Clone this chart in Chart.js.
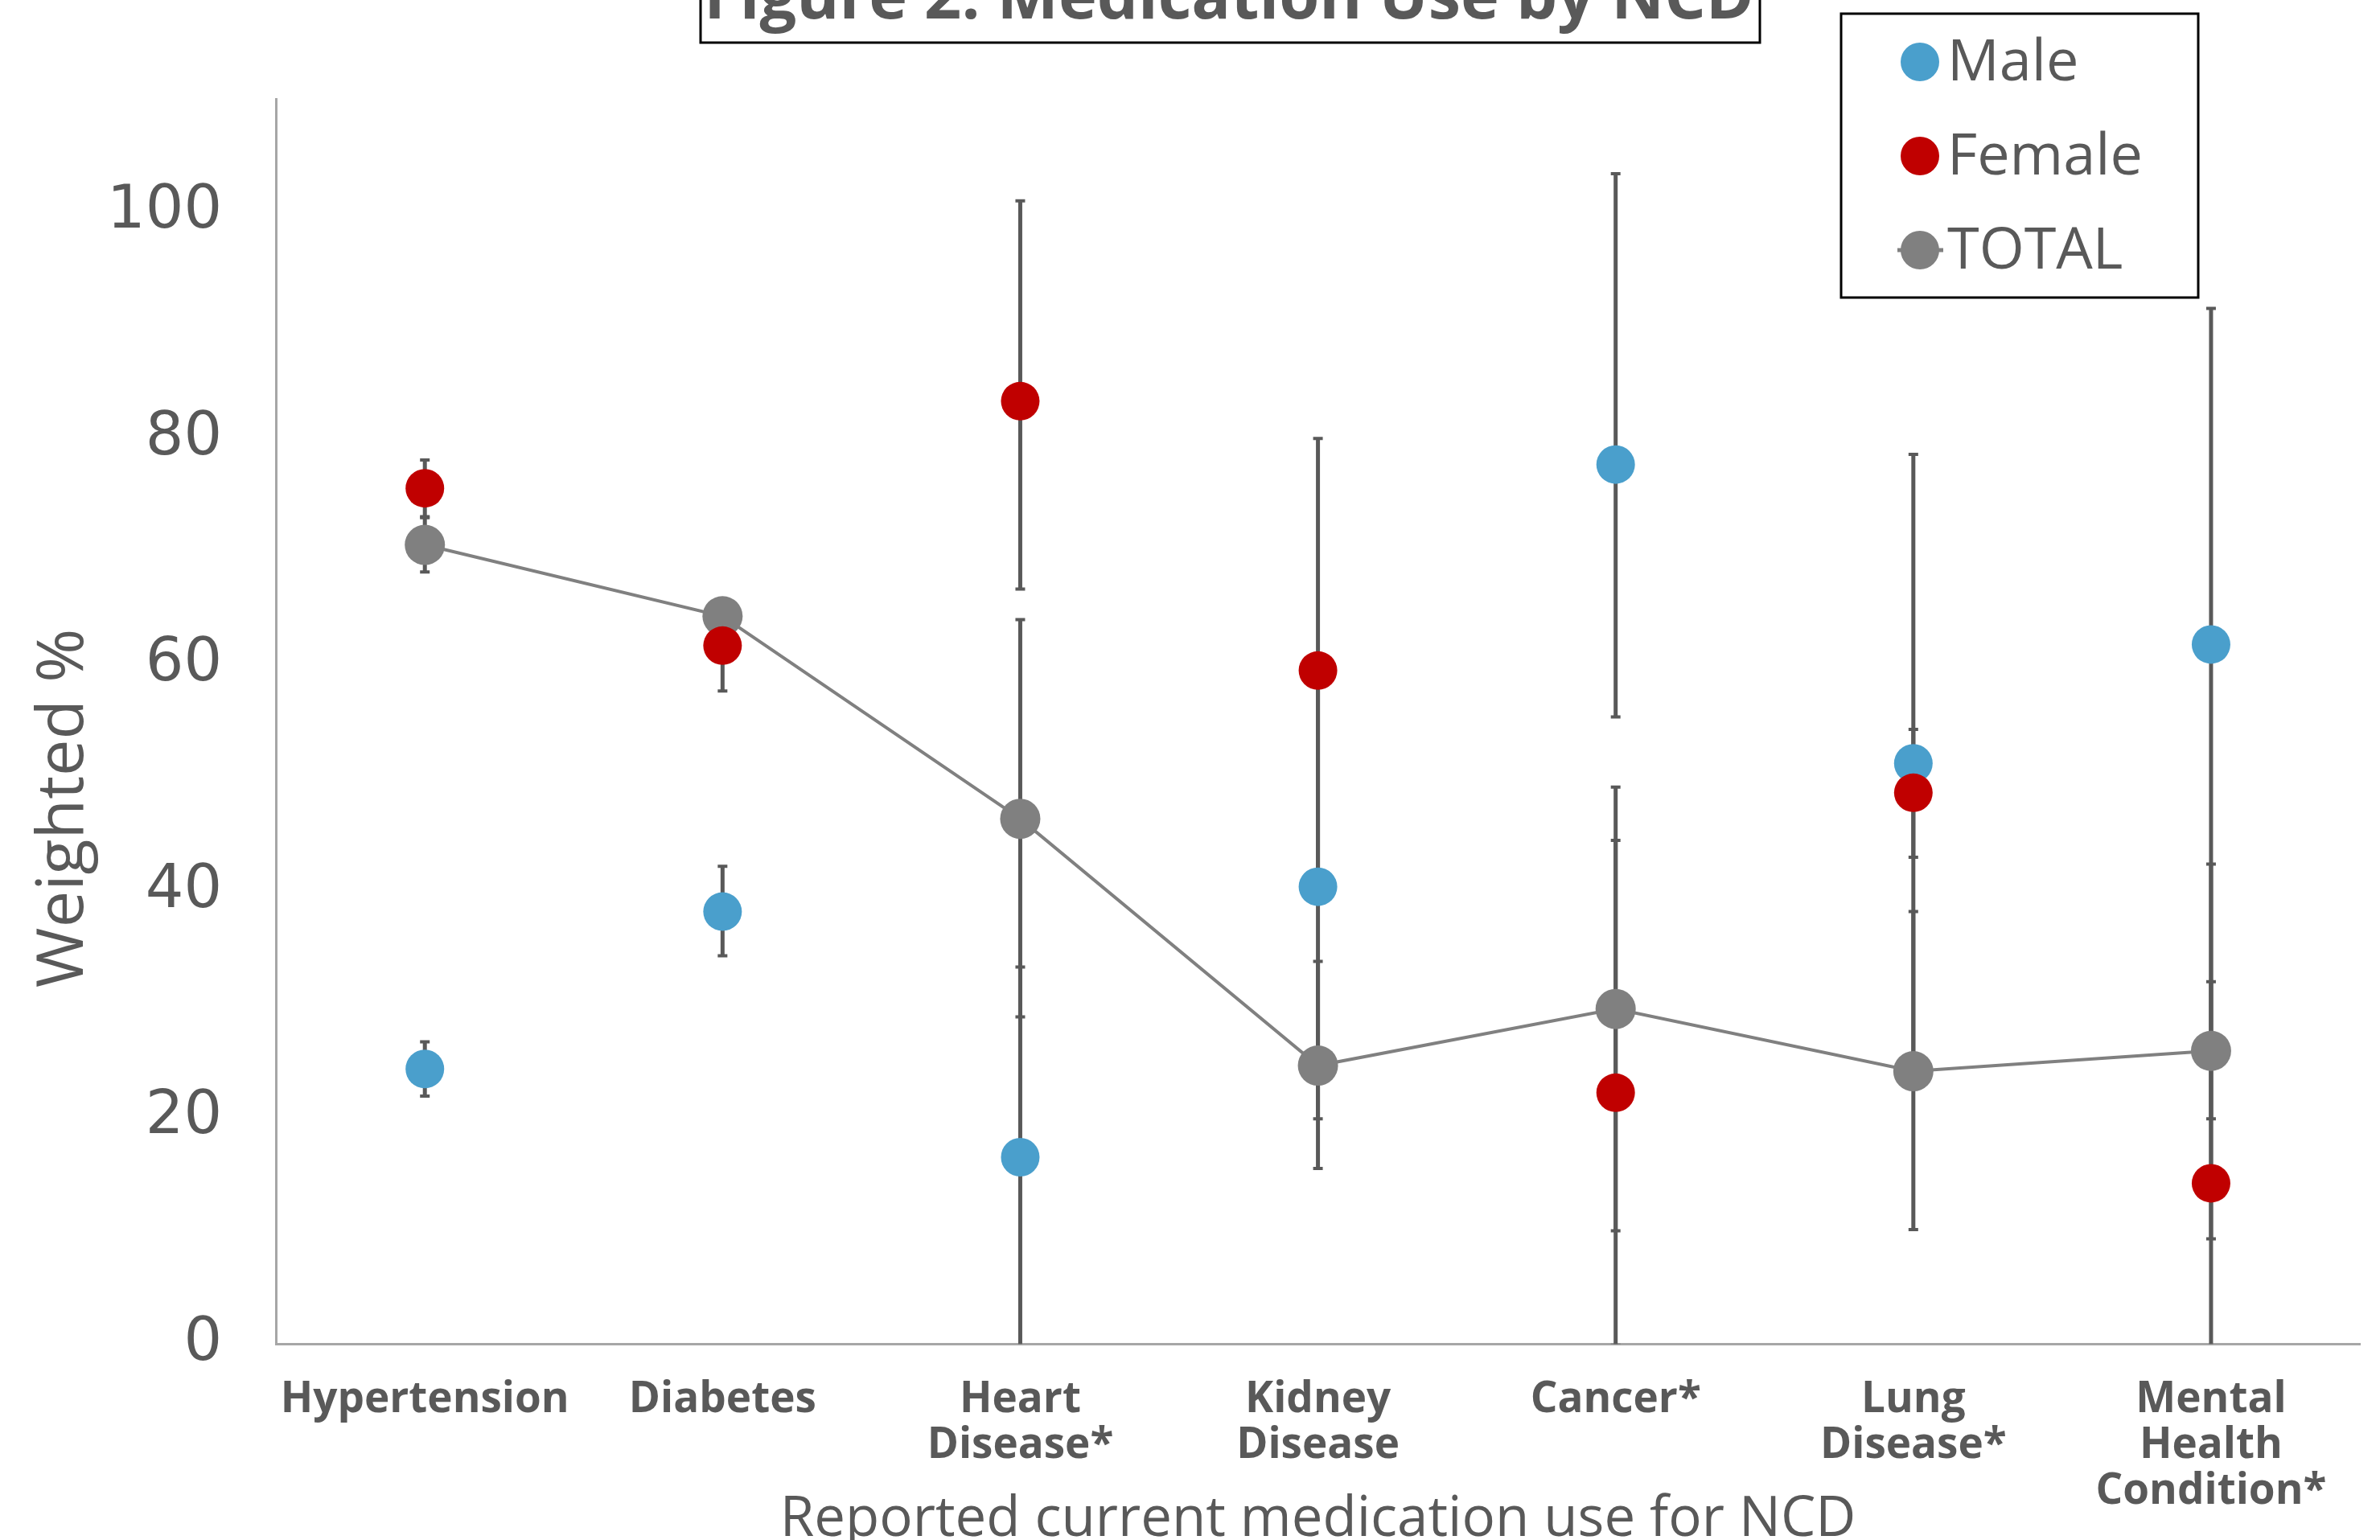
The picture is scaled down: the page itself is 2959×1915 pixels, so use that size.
<!DOCTYPE html>
<html>
<head>
<meta charset="utf-8">
<title>Figure 2: Medication Use by NCD</title>
<script src="https://cdn.jsdelivr.net/npm/chart.js@4.4.1/dist/chart.umd.min.js"></script>
<style>
  html, body { margin: 0; padding: 0; background: #ffffff; }
  #wrap { position: relative; width: 2959px; height: 1915px; }
</style>
</head>
<body>
<div id="wrap"><canvas id="ncdChart"></canvas></div>
<script>
// categories on the x axis (multi-line labels as in the figure)
const categories = [
    "Hypertension",
    "Diabetes",
    ["Heart", "Disease*"],
    ["Kidney", "Disease"],
    "Cancer*",
    ["Lung", "Disease*"],
    ["Mental", "Health", "Condition*"]
];

// weighted % per series
const maleValues   = [24.3, 38.2, 16.5, 40.4, 77.7, 51.3, 61.8];
const femaleValues = [75.6, 61.7, 83.3, 59.5, 22.2, 48.7, 14.2];
const totalValues  = [70.6, 64.3, 46.4, 24.6, 29.6, 24.1, 25.9];

// error bar ends (lower / upper)
const maleLow    = [21.9, 34.3, -0.3, 19.9, 55.4, 24.0, 9.3];
const maleHigh   = [26.7, 42.2, 33.3, 60.9, 103.4, 78.6, 91.5];
const femaleLow  = [73.1, 57.7, 66.7, 39.0, -0.1, 43.0, -13.8];
const femaleHigh = [78.1, 65.6, 101.0, 80.0, 44.5, 54.3, 42.4];
const totalLow   = [68.2, 62.8, 28.9, 15.5, 10.0, 10.1, 19.9];
const totalHigh  = [73.0, 65.8, 64.0, 33.8, 49.2, 38.2, 32.0];

const yTicks = [0, 20, 40, 60, 80, 100];

const textGrey = "#595959";

const errorBarPlugin = {
    id: "errorBars",
    beforeDatasetsDraw(chart) {
        const ctx = chart.ctx;
        const area = chart.chartArea;
        const yScale = chart.scales.y;
        ctx.save();
        ctx.beginPath();
        ctx.rect(area.left, area.top, area.right - area.left, area.bottom - area.top);
        ctx.clip();
        ctx.strokeStyle = "#595959";
        chart.data.datasets.forEach((ds, di) => {
            const meta = chart.getDatasetMeta(di);
            ds.errLow.forEach((lo, i) => {
                const x = meta.data[i].x;
                const yLo = yScale.getPixelForValue(lo);
                const yHi = yScale.getPixelForValue(ds.errHigh[i]);
                ctx.lineWidth = 5;
                ctx.beginPath();
                ctx.moveTo(x, yLo);
                ctx.lineTo(x, yHi);
                ctx.stroke();
                ctx.lineWidth = 4;
                [yLo, yHi].forEach(y => {
                    ctx.beginPath();
                    ctx.moveTo(x - 6, y);
                    ctx.lineTo(x + 6, y);
                    ctx.stroke();
                });
            });
        });
        ctx.restore();
    }
};

// title box, y axis title and boxed legend
const decorPlugin = {
    id: "decor",
    afterDraw(chart) {
        const ctx = chart.ctx;
        ctx.save();

        // title (top is cut off in the original figure)
        ctx.fillStyle = textGrey;
        ctx.font = "bold 81px 'Open Sans'";
        ctx.textAlign = "center";
        ctx.textBaseline = "alphabetic";
        ctx.fillText("Figure 2: Medication Use by NCD", 1528, 23);
        ctx.strokeStyle = "#000000";
        ctx.lineWidth = 3;
        ctx.strokeRect(871, -10, 1317, 63);

        // y axis title
        ctx.save();
        ctx.translate(103, 1005);
        ctx.rotate(-Math.PI / 2);
        ctx.font = "81px 'Open Sans'";
        ctx.textAlign = "center";
        ctx.textBaseline = "alphabetic";
        ctx.fillText("Weighted %", 0, 0);
        ctx.restore();

        // legend
        ctx.strokeStyle = "#000000";
        ctx.lineWidth = 3;
        ctx.strokeRect(2289, 17, 444, 353);
        const rows = [77, 194, 311];
        const legendOrder = [0, 1, 2];
        legendOrder.forEach((di, k) => {
            const ds = chart.data.datasets[di];
            const y = rows[k];
            if (ds.showLine) {
                ctx.strokeStyle = ds.borderColor;
                ctx.lineWidth = 5;
                ctx.beginPath();
                ctx.moveTo(2359, y);
                ctx.lineTo(2416, y);
                ctx.stroke();
            }
            ctx.fillStyle = ds.pointBackgroundColor;
            ctx.beginPath();
            ctx.arc(2387, y, 24, 0, Math.PI * 2);
            ctx.fill();
            ctx.fillStyle = textGrey;
            ctx.font = "72px 'Open Sans'";
            ctx.textAlign = "left";
            ctx.textBaseline = "middle";
            ctx.fillText(ds.label, 2421, y + 2);
        });

        ctx.restore();
    }
};

const ctx = document.getElementById("ncdChart").getContext("2d");

new Chart(ctx, {
    type: "line",
    data: {
        labels: categories,
        datasets: [
            {
                label: "Male",
                data: maleValues,
                errLow: maleLow,
                errHigh: maleHigh,
                showLine: false,
                pointRadius: 24,
                pointBorderWidth: 0,
                pointBackgroundColor: "#4A9FCC",
                pointBorderColor: "#4A9FCC",
                borderColor: "#4A9FCC",
                order: 1
            },
            {
                label: "Female",
                data: femaleValues,
                errLow: femaleLow,
                errHigh: femaleHigh,
                showLine: false,
                pointRadius: 24,
                pointBorderWidth: 0,
                pointBackgroundColor: "#C00000",
                pointBorderColor: "#C00000",
                borderColor: "#C00000",
                order: 0
            },
            {
                label: "TOTAL",
                data: totalValues,
                errLow: totalLow,
                errHigh: totalHigh,
                showLine: true,
                borderColor: "#808080",
                borderWidth: 4,
                pointRadius: 25,
                pointBorderWidth: 0,
                pointBackgroundColor: "#808080",
                pointBorderColor: "#808080",
                fill: false,
                tension: 0,
                order: 2
            }
        ]
    },
    options: {
        responsive: true,
        maintainAspectRatio: false,
        animation: false,
        layout: { padding: { left: 74, right: 23, top: 123, bottom: 0 } },
        plugins: {
            legend: { display: false },
            title: { display: false },
            tooltip: { enabled: false }
        },
        scales: {
            x: {
                offset: true,
                grid: { display: false },
                border: { display: true, color: "#a6a6a6", width: 3 },
                ticks: {
                    color: textGrey,
                    font: { family: "'Open Sans'", size: 53, weight: "bold", lineHeight: 1.08 },
                    padding: 33,
                    maxRotation: 0,
                    autoSkip: false
                },
                title: {
                    display: true,
                    text: "Reported current medication use for NCD",
                    color: textGrey,
                    font: { family: "'Open Sans'", size: 69, lineHeight: 1 },
                    padding: { top: -61, bottom: -10 }
                }
            },
            y: {
                min: 0,
                max: 110,
                grid: { display: false },
                border: { display: true, color: "#a6a6a6", width: 3 },
                afterBuildTicks: axis => {
                    axis.ticks = yTicks.map(v => ({ value: v }));
                },
                ticks: {
                    color: textGrey,
                    font: { family: "'DejaVu Sans'", size: 75 },
                    padding: 59
                }
            }
        }
    },
    plugins: [errorBarPlugin, decorPlugin]
});
</script>
</body>
</html>
